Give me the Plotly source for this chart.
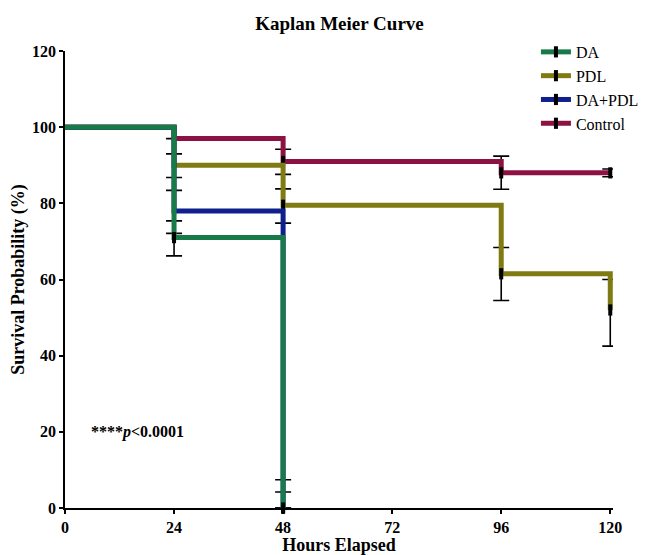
import plotly.graph_objects as go

# Data
series_names = ["DA", "PDL", "DA+PDL", "Control"]
da_t = [0, 24, 48]
da_s = [100, 71, 0]
da_up = [0, 4.4, 4.2]
da_lo = [0, 4.8, 0]

pdl_t = [0, 24, 48, 96, 120]
pdl_s = [100, 90, 79.5, 61.5, 52]
pdl_up = [0, 3, 4.3, 6.9, 8]
pdl_lo = [0, 3.2, 4.7, 7, 9.5]

dapdl_t = [0, 24, 48]
dapdl_s = [100, 78, 0]
dapdl_up = [0, 5.4, 7.4]
dapdl_lo = [0, 5.9, 0]

ctrl_t = [0, 24, 48, 96, 120]
ctrl_s = [100, 97, 91, 88, 88]
ctrl_up = [0, 0, 3.2, 4.4, 1]
ctrl_lo = [0, 0, 3.4, 4.3, 1]

x_ticks = [0, 24, 48, 72, 96, 120]
y_ticks = [0, 20, 40, 60, 80, 100, 120]

colors = {"DA": "#177a48", "PDL": "#807a12", "DA+PDL": "#0f208c", "Control": "#8c1244"}

data = {
    "DA": (da_t, da_s, da_up, da_lo),
    "PDL": (pdl_t, pdl_s, pdl_up, pdl_lo),
    "DA+PDL": (dapdl_t, dapdl_s, dapdl_up, dapdl_lo),
    "Control": (ctrl_t, ctrl_s, ctrl_up, ctrl_lo),
}

FONT = "Liberation Serif"
fig = go.Figure()

# error bars first (beneath lines)
for name in series_names:
    t, s, up, lo = data[name]
    fig.add_trace(go.Scatter(
        x=t[1:], y=s[1:], mode="markers", marker=dict(size=0.1, color="black"),
        error_y=dict(type="data", array=up[1:], arrayminus=lo[1:], color="black",
                     thickness=1.6, width=8),
        showlegend=False, hoverinfo="skip", cliponaxis=False))

draw_order = ["Control", "PDL", "DA+PDL", "DA"]
rank = {n: i for i, n in enumerate(series_names)}
for name in draw_order:
    t, s, up, lo = data[name]
    fig.add_trace(go.Scatter(
        x=t, y=s, mode="lines", line=dict(shape="hv", color=colors[name], width=5),
        name=name, showlegend=False, hoverinfo="skip"))
    # censor ticks for this series
    fig.add_trace(go.Scatter(
        x=t[1:], y=s[1:], mode="markers",
        marker=dict(symbol="line-ns", size=8, line=dict(width=4, color="black")),
        showlegend=False, hoverinfo="skip", cliponaxis=False))

# legend entries
for name in series_names:
    fig.add_trace(go.Scatter(
        x=[None], y=[None], mode="lines+markers", name=name,
        line=dict(color=colors[name], width=5),
        marker=dict(symbol="line-ns", size=8, line=dict(width=4, color="black"), color="black"),
        legendrank=rank[name]))

fig.add_annotation(x=5.3, y=20, xref="x", yref="y", xanchor="left", yanchor="middle",
                   text="<b>****<i>p</i><0.0001</b>", showarrow=False,
                   font=dict(family=FONT, size=16, color="black"))

axis_common = dict(showline=True, linecolor="black", linewidth=1.8, ticks="outside",
                   ticklen=4, tickwidth=1.8, tickcolor="black", showgrid=False, zeroline=False,
                   tickfont=dict(family=FONT, size=16, color="black", weight="bold"),
                   automargin=False)

fig.update_layout(
    width=652, height=555,
    margin=dict(l=65, r=39, t=51, b=47, autoexpand=False),
    paper_bgcolor="white", plot_bgcolor="white",
    title=dict(text="<b>Kaplan Meier Curve</b>", x=0.5207, xanchor="center", y=0.9586, yanchor="middle",
               font=dict(family=FONT, size=19, color="black")),
    xaxis=dict(range=[0, 120.6], tickvals=x_ticks,
               title=dict(text="<b>Hours Elapsed</b>", font=dict(family=FONT, size=18, color="black"),
                          standoff=11), **axis_common),
    yaxis=dict(range=[0, 120], tickvals=y_ticks,
               title=dict(text="<b>Survival Probability (%)</b>", font=dict(family=FONT, size=18, color="black"),
                          standoff=3), **axis_common),
    legend=dict(x=0.822, y=0.937, xref="container", yref="container", xanchor="left", yanchor="top",
                bgcolor="rgba(0,0,0,0)",
                font=dict(family=FONT, size=16, color="black"), tracegroupgap=0, itemwidth=30),
    showlegend=True,
)

fig.write_html("out.html", config={"displayModeBar": False},
               post_script="document.body.style.margin='0';document.body.style.overflow='hidden';")
